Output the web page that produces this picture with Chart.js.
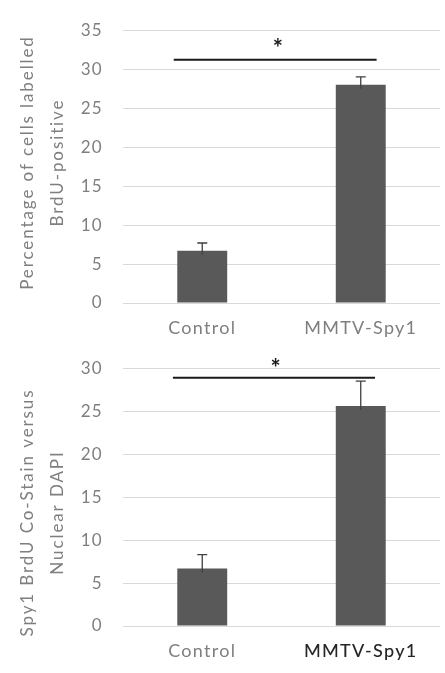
<!DOCTYPE html>
<html>
<head>
<meta charset="utf-8">
<script src="https://cdn.jsdelivr.net/npm/chart.js@4"></script>
<style>
  html, body { margin: 0; padding: 0; background: #fff; }
  canvas { display: block; }
</style>
</head>
<body>
<canvas id="brduChart" width="445" height="338"></canvas>
<canvas id="coStainChart" width="445" height="335"></canvas>
<script>
// Groups on the category axis
const categories = ['Control', 'MMTV-Spy1'];

// Panel 1: percentage of cells labelled BrdU-positive (mean, upper error)
const brduPositive = [6.7, 28.0];
const brduPositiveErr = [1.0, 1.0];
const brduAxisMax = 35;
const brduTitle = ['Percentage of cells labelled', 'BrdU-positive'];
const brduSignificance = { from: -0.18, to: 1.1, level: 31.2, starAt: 0.477, starLevel: 33.1, label: '*' };

// Panel 2: Spy1 BrdU co-stain versus nuclear DAPI (mean, upper error)
const coStain = [6.7, 25.6];
const coStainErr = [1.6, 2.9];
const coStainAxisMax = 30;
const coStainTitle = ['Spy1 BrdU Co-Stain versus', 'Nuclear DAPI'];
const coStainSignificance = { from: -0.185, to: 1.09, level: 28.9, starAt: 0.462, starLevel: 30.4, label: '*' };

const tickStep = 5;

const FONT = 'Lato, "Open Sans", sans-serif';
const GREY_TEXT = '#7f7f7f';
const BAR_COLOR = '#595959';

// Upper-only error bars with a small cap
const errorBarPlugin = {
  id: 'errorBars',
  afterDatasetsDraw(chart, args, opts) {
    const ctx = chart.ctx;
    const y = chart.scales.y;
    const meta = chart.getDatasetMeta(0);
    ctx.save();
    ctx.strokeStyle = '#3f3f3f';
    ctx.lineWidth = 1.3;
    meta.data.forEach((bar, i) => {
      const v = chart.data.datasets[0].data[i];
      const top = y.getPixelForValue(v + opts.errors[i]);
      ctx.beginPath();
      ctx.moveTo(bar.x, bar.y + 4);
      ctx.lineTo(bar.x, top);
      ctx.moveTo(bar.x - 5, top);
      ctx.lineTo(bar.x + 5, top);
      ctx.stroke();
    });
    ctx.restore();
  }
};

// Significance bar spanning both groups, with an asterisk above it
const significancePlugin = {
  id: 'significance',
  afterDraw(chart, args, opts) {
    const ctx = chart.ctx;
    const x = chart.scales.x, y = chart.scales.y;
    const step = x.getPixelForValue(1) - x.getPixelForValue(0);
    const x0 = x.getPixelForValue(0) + opts.from * step;
    const x1 = x.getPixelForValue(0) + opts.to * step;
    const ly = y.getPixelForValue(opts.level);
    ctx.save();
    ctx.letterSpacing = '0px';
    ctx.strokeStyle = '#1a1a1a';
    ctx.lineWidth = 2;
    ctx.beginPath();
    ctx.moveTo(x0, ly);
    ctx.lineTo(x1, ly);
    ctx.stroke();
    ctx.fillStyle = '#1a1a1a';
    const size = 24;
    ctx.font = 'bold ' + size + 'px ' + FONT;
    ctx.textAlign = 'center';
    ctx.textBaseline = 'alphabetic';
    const sx = x.getPixelForValue(0) + opts.starAt * step;
    const sy = y.getPixelForValue(opts.starLevel);
    ctx.fillText(opts.label, sx, sy + size * 0.5);
    ctx.restore();
  }
};

// Two-line rotated y-axis title
const yTitlePlugin = {
  id: 'yTitle',
  afterDraw(chart, args, opts) {
    const ctx = chart.ctx;
    ctx.save();
    ctx.fillStyle = GREY_TEXT;
    ctx.font = '17px ' + FONT;
    ctx.letterSpacing = opts.spacing;
    ctx.textAlign = 'center';
    ctx.textBaseline = 'middle';
    opts.lines.forEach((line, i) => {
      ctx.save();
      ctx.translate(opts.x + i * opts.lineGap, opts.centerY);
      ctx.rotate(-Math.PI / 2);
      ctx.fillText(line, 0, 0);
      ctx.restore();
    });
    ctx.restore();
  }
};

// Wider glyph spacing for the axis labels
const spacingPlugin = {
  id: 'letterSpacing',
  beforeDraw(chart, args, opts) { chart.ctx.letterSpacing = opts.value; }
};

function makeChart(id, values, errors, axisMax, title, sig, padTop, plotHeight, canvasHeight, titleCenter, xTickColors) {
  return new Chart(document.getElementById(id), {
    type: 'bar',
    data: {
      labels: categories,
      datasets: [{
        data: values,
        backgroundColor: BAR_COLOR,
        borderWidth: 0,
        barPercentage: 0.315,
        categoryPercentage: 1.0
      }]
    },
    options: {
      responsive: false,
      animation: false,
      events: [],
      layout: { padding: { top: padTop, right: 5, bottom: 0, left: 0 } },
      plugins: {
        legend: { display: false },
        tooltip: { enabled: false },
        errorBars: { errors: errors },
        significance: sig,
        yTitle: { lines: title, x: 28, lineGap: 30, centerY: titleCenter, spacing: '1.9px' },
        letterSpacing: { value: '1.3px' }
      },
      scales: {
        x: {
          grid: { display: false, drawTicks: false },
          border: { display: false },
          ticks: {
            padding: 14,
            color: ctx => xTickColors[ctx.index],
            font: ctx => ({ family: FONT, size: 18, weight: ctx.index === 1 && xTickColors[1] !== GREY_TEXT ? '500' : 'normal' })
          },
          afterFit(scale) { scale.height = canvasHeight - padTop - plotHeight; }
        },
        y: {
          min: 0,
          max: axisMax,
          grid: { color: '#d9d9d9', lineWidth: 1, drawTicks: false },
          border: { display: false },
          ticks: {
            stepSize: tickStep,
            padding: 20,
            color: GREY_TEXT,
            font: { family: FONT, size: 17 }
          },
          afterFit(scale) { scale.width = 123; }
        }
      }
    },
    plugins: [spacingPlugin, errorBarPlugin, significancePlugin, yTitlePlugin]
  });
}

makeChart('brduChart', brduPositive, brduPositiveErr, brduAxisMax, brduTitle, brduSignificance,
  22, 281, 338, 162.5, [GREY_TEXT, GREY_TEXT]);
makeChart('coStainChart', coStain, coStainErr, coStainAxisMax, coStainTitle, coStainSignificance,
  26, 262, 335, 174.5, [GREY_TEXT, '#262626']);
</script>
</body>
</html>
